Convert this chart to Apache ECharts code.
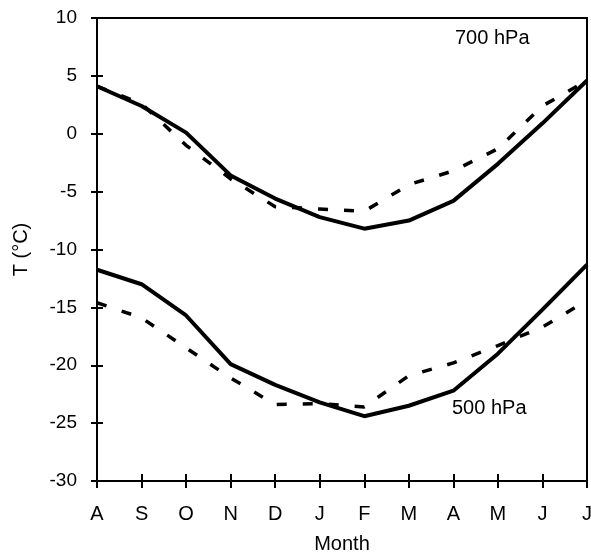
<!DOCTYPE html>
<html>
<head>
<meta charset="utf-8">
<script src="https://cdn.jsdelivr.net/npm/echarts@6/dist/echarts.min.js"></script>
<style>
html,body{margin:0;padding:0;background:#fff;}
#chart{width:591px;height:555px;}
</style>
</head>
<body>
<div id="chart"></div>
<script>
var months = ['A','S','O','N','D','J','F','M','A','M','J','J'];
var solid700 = [4.1, 2.4, 0.1, -3.6, -5.6, -7.2, -8.2, -7.5, -5.8, -2.6, 0.9, 4.6];
var dashed700 = [4.1, 2.6, -1.0, -3.9, -6.3, -6.5, -6.7, -4.4, -3.2, -1.3, 2.4, 4.6];
var solid500 = [-11.75, -13.0, -15.7, -19.9, -21.7, -23.2, -24.4, -23.5, -22.2, -19.0, -15.2, -11.3];
var dashed500 = [-14.6, -15.9, -18.5, -21.1, -23.4, -23.3, -23.6, -20.9, -19.8, -18.3, -16.7, -14.4];
var yTicks = {min: -30, max: 10, interval: 5};

var FONT = 'Liberation Sans';
var chart = echarts.init(document.getElementById('chart'), null, {renderer: 'canvas'});

function xAx(inside, showLabel) {
  return {
    type: 'category', data: months, boundaryGap: false, position: 'bottom',
    name: showLabel ? 'Month' : '', nameLocation: 'middle', nameGap: 53,
    nameTextStyle: {fontFamily: FONT, fontSize: 20, color: '#000'},
    axisLine: {show: true, onZero: false, lineStyle: {color: '#000', width: 2}},
    axisTick: {show: true, inside: inside, length: 7, alignWithLabel: true, lineStyle: {color: '#000', width: 2}},
    axisLabel: {show: showLabel, fontFamily: FONT, fontSize: 20, color: '#000', margin: 23, interval: 0},
    splitLine: {show: false}
  };
}
function yAx(inside, showLabel) {
  return {
    type: 'value', min: yTicks.min, max: yTicks.max, interval: yTicks.interval, position: 'left',
    name: showLabel ? 'T (\u00B0C)' : '', nameLocation: 'middle', nameGap: 66, nameRotate: 90,
    nameTextStyle: {fontFamily: FONT, fontSize: 20, color: '#000'},
    axisLine: {show: true, onZero: false, lineStyle: {color: '#000', width: 2}},
    axisTick: {show: true, inside: inside, length: 6, lineStyle: {color: '#000', width: 2}},
    axisLabel: {show: showLabel, fontFamily: FONT, fontSize: 19, color: '#000', margin: 20},
    splitLine: {show: false}
  };
}

function line(data, dashed) {
  return {
    type: 'line', data: data, xAxisIndex: 0, yAxisIndex: 0,
    symbol: 'none', smooth: false, animation: false,
    lineStyle: dashed ? {color: '#000', width: 3.5, type: [10, 16]} : {color: '#000', width: 4},
    z: dashed ? 3 : 4
  };
}

chart.setOption({
  animation: false,
  backgroundColor: '#fff',
  grid: {left: 97, right: 4, top: 18, bottom: 74, show: true, borderColor: '#000', borderWidth: 2,
         backgroundColor: 'transparent', containLabel: false, outerBoundsMode: 'none'},
  xAxis: [xAx(false, true), xAx(true, false)],
  yAxis: [yAx(false, true), yAx(true, false)],
  series: [line(solid700, false), line(dashed700, true), line(solid500, false), line(dashed500, true)],
  graphic: [
    {type: 'text', left: 455, top: 28, style: {text: '700 hPa', font: '20px "Liberation Sans"', fill: '#000'}},
    {type: 'text', left: 452, top: 398, style: {text: '500 hPa', font: '20px "Liberation Sans"', fill: '#000'}}
  ]
});
</script>
</body>
</html>
